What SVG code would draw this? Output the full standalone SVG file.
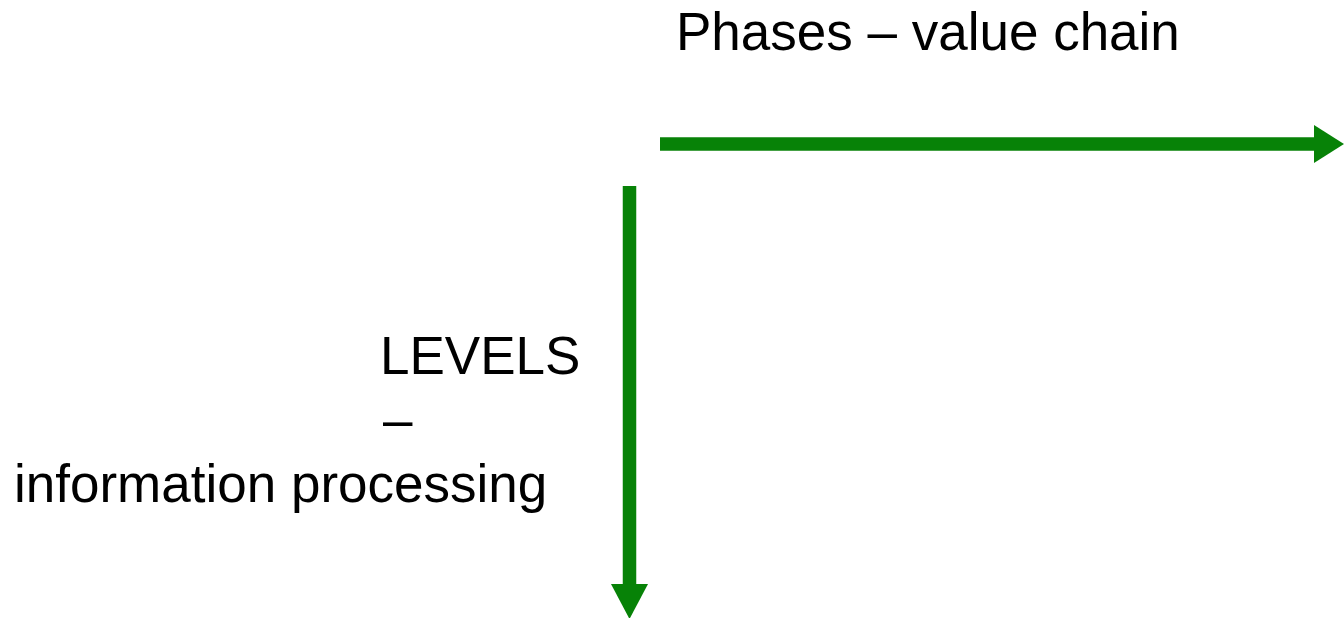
<svg xmlns="http://www.w3.org/2000/svg" width="1344" height="618" viewBox="0 0 1344 618">
<style>
text{font-family:"Liberation Sans",Arial,sans-serif;font-size:53px;fill:#000}
.ax{stroke:#078207;stroke-width:13.5;fill:none}
.hd{fill:#078207}
</style>
<rect width="1344" height="618" fill="#fff"/>
<g id="connectors">
<line class="ax" x1="660" y1="144" x2="1316" y2="144"/>
<polygon class="hd" points="1314,125 1344,144 1314,163"/>
<line class="ax" x1="629.5" y1="186" x2="629.5" y2="585"/>
<polygon class="hd" points="611,584 648,584 629.5,619"/>
</g>
<g id="title-phases"><text x="676" y="50">Phases – value chain</text></g>
<g id="title-levels">
<text x="380" y="374">LEVELS</text>
<text x="383" y="438">–</text>
<text x="14" y="502">information processing</text>
</g>
</svg>
